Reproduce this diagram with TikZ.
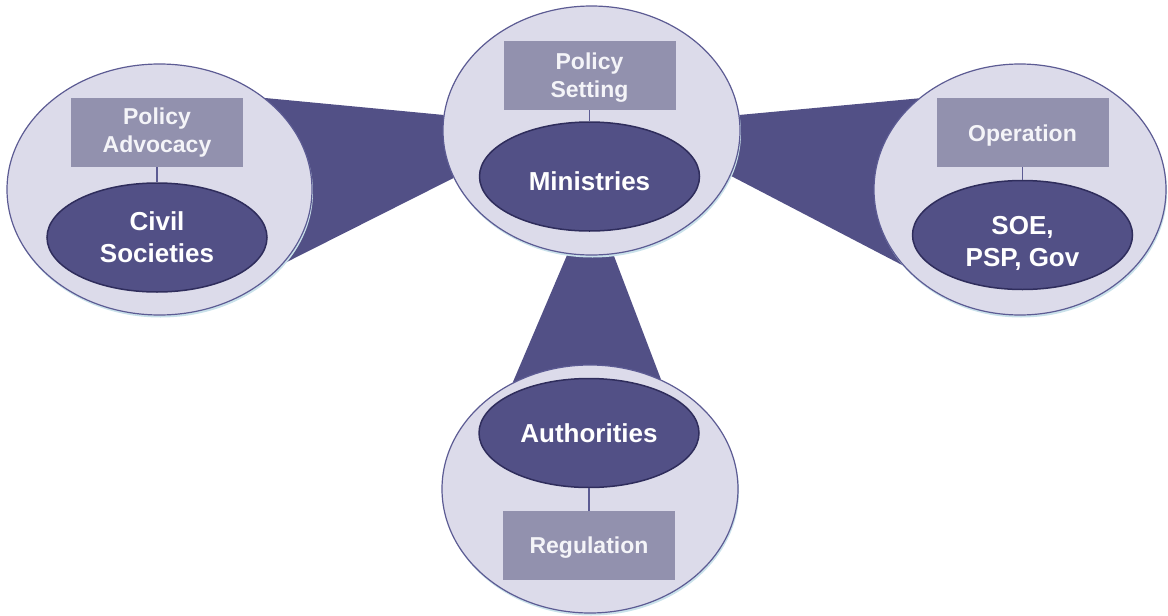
\documentclass[tikz,border=0pt]{standalone}
\usepackage{fontspec}
\setmainfont{Liberation Sans}
\usetikzlibrary{shapes.geometric,shadows}
\definecolor{dark}{HTML}{525086}
\definecolor{circF}{HTML}{DCDBEA}
\definecolor{circB}{HTML}{5C5B93}
\definecolor{rectF}{HTML}{9291AE}
\definecolor{rectT}{HTML}{F4F4F8}
\definecolor{innerB}{HTML}{2F2D5C}
\definecolor{shadowc}{HTML}{C9E1EA}
\newcommand{\dn}[2]{\raisebox{-#1}[\height][\depth]{#2}}
\pgfdeclarelayer{bg}
\pgfsetlayers{bg,main}
\begin{document}
\begin{tikzpicture}[x=1pt,y=-1pt,
  outer/.style={ellipse, draw=circB, line width=1.2pt, fill=circF, inner sep=0pt,
    minimum width=297pt, minimum height=249pt,
    drop shadow={shadow xshift=1pt, shadow yshift=-2.5pt, fill=shadowc, opacity=1}},
  inner/.style={ellipse, draw=innerB, line width=1.5pt, fill=dark, inner sep=0pt,
    minimum width=220pt, minimum height=109pt, text=white,
    font=\fontsize{26}{32}\selectfont\bfseries, align=center},
  lab/.style={rectangle, fill=rectF, inner sep=0pt, minimum width=172pt,
    minimum height=69pt, text=rectT, font=\fontsize{23}{28}\selectfont\bfseries, align=center},
  link/.style={draw=circB, line width=1.5pt},
  wedge/.style={fill=dark}]
\useasboundingbox (0,0) rectangle (1168,616);

% outer circles
\node[outer, minimum width=305pt, minimum height=251pt] (L) at (159.5,189.5) {};
\node[outer] (C) at (591.5,130.5) {};
\node[outer, minimum width=292pt, minimum height=251pt] (R) at (1020,189.5) {};
\node[outer, minimum width=296pt, minimum height=248pt] (B) at (590,489) {};

% wedges (behind)
\begin{pgfonlayer}{bg}
\fill[wedge] (L.41) -- (C.174) -- (C.199.3) -- (L.-31.4) -- cycle;
\fill[wedge] (C.6) -- (R.138.2) -- (R.213.5) -- (C.-18.3) -- cycle;
\fill[wedge] (C.-101.7) -- (C.-80.5) -- (B.57.1) -- (B.126.3) -- cycle;
\end{pgfonlayer}

% labels
\node[lab] (Lr) at (157,132.5) {Policy\\Advocacy};
\node[lab] (Cr) at (589.5,75.5) {\dn{2pt}{Policy}\\\dn{2pt}{Setting}};
\node[lab] (Rr) at (1022.5,132.5) {\dn{3pt}{Operation}};
\node[lab] (Br) at (589,545.5) {\dn{2pt}{Regulation}};

% inner ellipses
\node[inner] (Li) at (157,237.5) {Civil\\Societies};
\node[inner] (Ci) at (589.5,176.5) {\dn{5pt}{Ministries}};
\node[inner] (Ri) at (1022.5,235) {\dn{8pt}{SOE,}\\\dn{8pt}{PSP, Gov}};
\node[inner] (Bi) at (589,433) {Authorities};

% links
\draw[link] (Lr) -- (Li);
\draw[link] (Cr) -- (Ci);
\draw[link] (Rr) -- (Ri);
\draw[link] (Bi) -- (Br);
\end{tikzpicture}
\end{document}
